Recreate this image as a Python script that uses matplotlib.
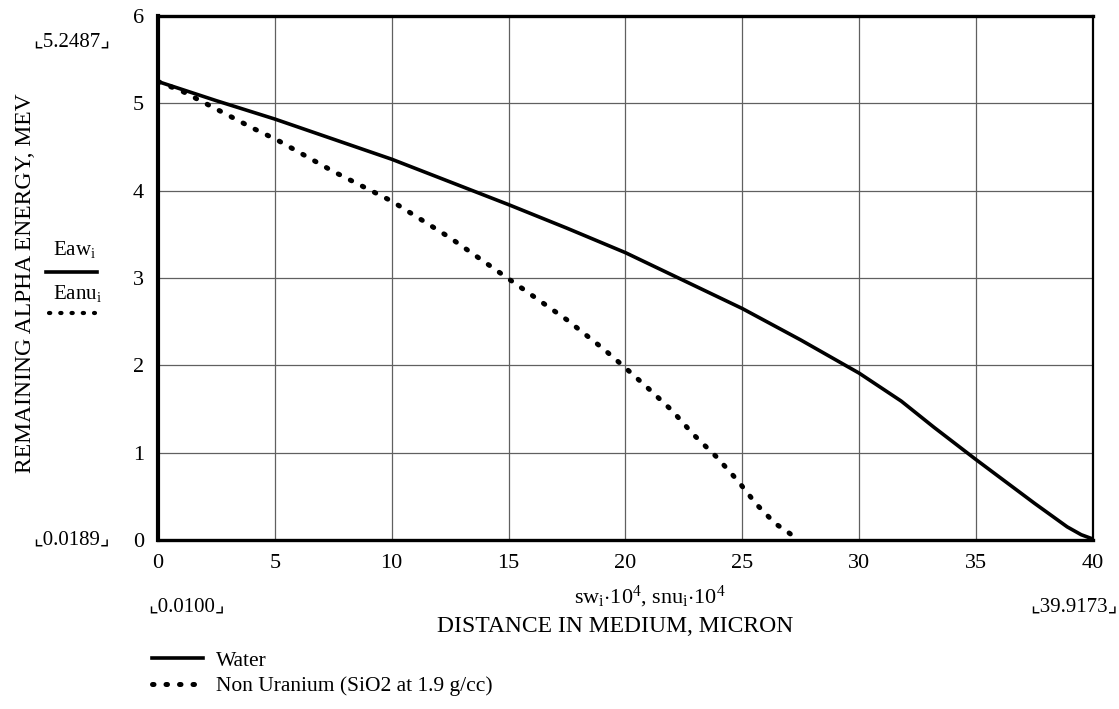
import numpy as np
import matplotlib.pyplot as plt
from matplotlib.lines import Line2D

plt.rcParams['font.family'] = ['Liberation Serif', 'DejaVu Sans']
plt.rcParams['mathtext.fontset'] = 'custom'
plt.rcParams['mathtext.rm'] = 'Liberation Serif'
plt.rcParams['mathtext.it'] = 'Liberation Serif'

# values
sw = [0.01, 2.5, 5, 7.5, 10, 12.5, 15, 17.5, 20, 22.5, 25, 27.5, 30,
      31.8, 33.2, 35, 36.1, 37.5, 38.9, 39.5, 39.9173]
Eaw = [5.2487, 5.03, 4.82, 4.59, 4.36, 4.10, 3.84, 3.57, 3.29, 2.97, 2.65,
       2.29, 1.91, 1.59, 1.29, 0.92, 0.70, 0.42, 0.15, 0.06, 0.0189]

snu = [0.01, 1.1, 2.1, 3.1, 4.1, 5.1, 7.5, 10, 12.5, 15, 17.5, 19.05, 20,
       21, 22, 22.9, 23.9, 24.8, 25.6, 26.4, 27.0, 27.3]
Eanu = [5.2487, 5.13, 4.99, 4.85, 4.71, 4.58, 4.22, 3.88, 3.46, 2.99, 2.52,
        2.19, 1.97, 1.73, 1.48, 1.21, 0.95, 0.68, 0.41, 0.19, 0.08, 0.02]

xticks = [0, 5, 10, 15, 20, 25, 30, 35, 40]
yticks = [0, 1, 2, 3, 4, 5, 6]

fig = plt.figure(figsize=(11.19, 7.09), dpi=100)
ax = fig.add_axes([0.1412, 0.2384, 0.8355, 0.739])

lw, = ax.plot(sw, Eaw, color='black', lw=2.6, label='Water')
ln, = ax.plot(snu, Eanu, color='black', lw=3.6, linestyle=(0, (0.3, 2.4)),
              dash_capstyle='round', label='Non Uranium (SiO2 at 1.9 g/cc)')

ax.set_xlim(0, 40)
ax.set_ylim(0, 6)
ax.set_xticks(xticks)
ax.set_yticks(yticks)
ax.tick_params(length=0, labelsize=16, pad=10)
ax.grid(True, color='#606060', lw=0.9)
for side, w in [('left', 3.0), ('bottom', 2.4), ('top', 2.4), ('right', 1.6)]:
    ax.spines[side].set_linewidth(w)

# Mathcad style limit markers and labels
fig.text(72 / 1119, 1 - 42 / 709, '⌞5.2487⌟', fontsize=15, ha='center', va='center')
fig.text(72 / 1119, 1 - 540 / 709, '⌞0.0189⌟', fontsize=15, ha='center', va='center')
fig.text(148 / 1119, 1 - 607 / 709, '⌞0.0100⌟', fontsize=15, ha='left', va='center')
fig.text(1118 / 1119, 1 - 607 / 709, '⌞39.9173⌟', fontsize=15, ha='right', va='center')

fig.text(650 / 1119, 1 - 597 / 709,
         r'sw$_\mathrm{i}$$\cdot$10$^\mathrm{4}$, snu$_\mathrm{i}$$\cdot$10$^\mathrm{4}$',
         fontsize=16, ha='center', va='center')
fig.text(615 / 1119, 1 - 627 / 709, 'DISTANCE IN MEDIUM, MICRON',
         fontsize=17, ha='center', va='center')
fig.text(26 / 1119, 1 - 283 / 709, 'REMAINING ALPHA ENERGY, MEV',
         fontsize=17, ha='center', va='center', rotation=90)

fig.text(74 / 1119, 1 - 250 / 709, r'Eaw$_\mathrm{i}$', fontsize=15, ha='center', va='center')
fig.add_artist(Line2D([46 / 1119, 97 / 1119], [1 - 272 / 709, 1 - 272 / 709],
                      color='black', lw=2.6, transform=fig.transFigure))
fig.text(77 / 1119, 1 - 293 / 709, r'Eanu$_\mathrm{i}$', fontsize=15, ha='center', va='center')
fig.add_artist(Line2D([49 / 1119, 95 / 1119], [1 - 313 / 709, 1 - 313 / 709],
                      color='black', lw=3.0, linestyle=(0, (0.3, 2.4)),
                      dash_capstyle='round', transform=fig.transFigure))

leg = fig.legend(handles=[lw, ln], loc='upper left',
                 bbox_to_anchor=(141 / 1119, 1 - 640 / 709), frameon=False,
                 fontsize=15.5, handlelength=2.4, handletextpad=0.6,
                 labelspacing=0.25, borderpad=0)

fig.savefig('out.png', dpi=100)
